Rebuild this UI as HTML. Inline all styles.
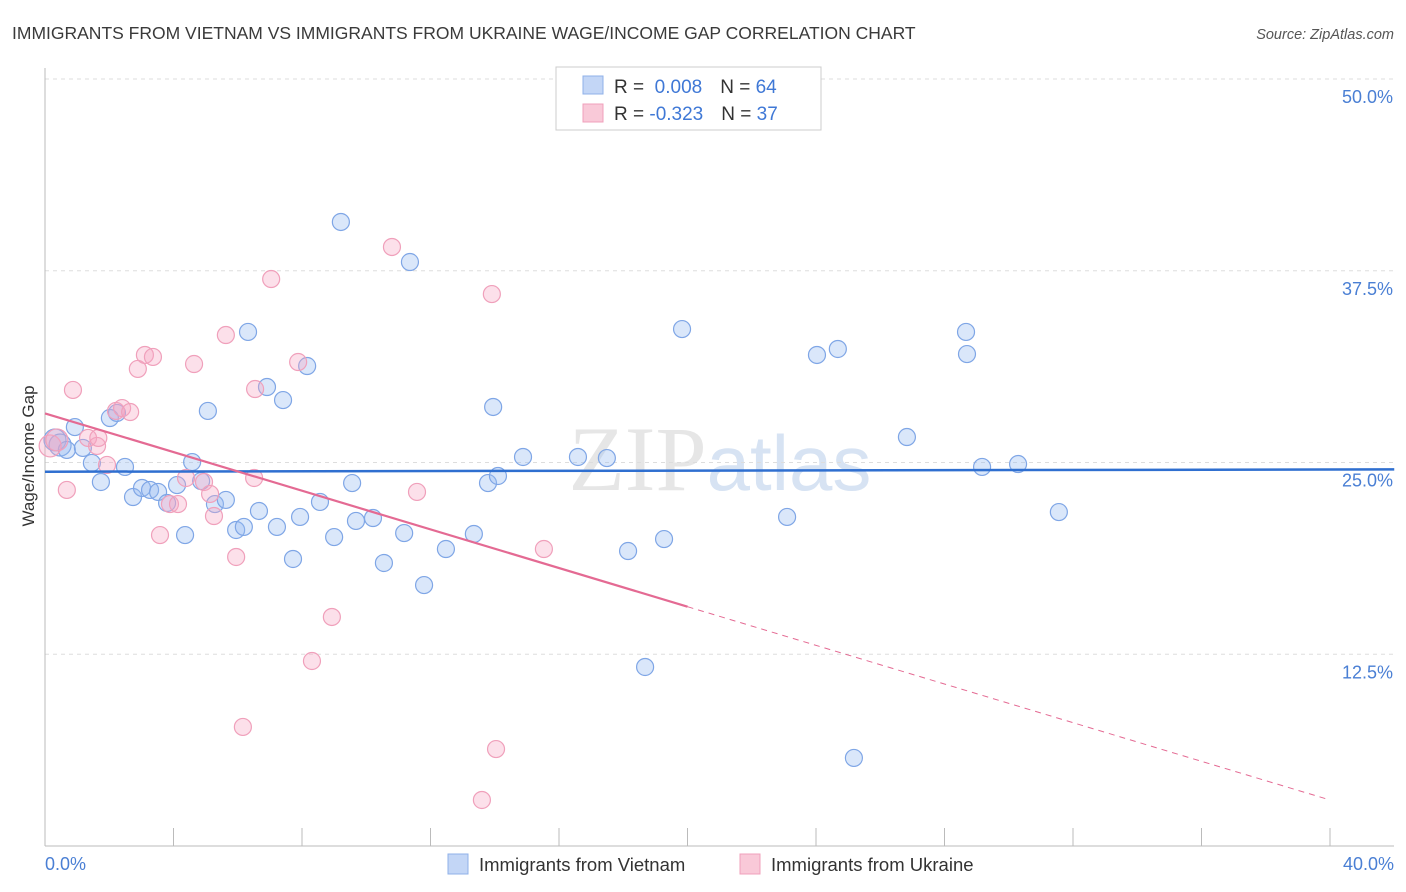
<!DOCTYPE html>
<html><head><meta charset="utf-8"><style>
body{margin:0;background:#fff;font-family:"Liberation Sans",sans-serif;}
svg{display:block}
</style></head><body>
<svg id="chart" width="1406" height="892" viewBox="0 0 1406 892">
<text x="12" y="39" font-size="17.5" fill="#3a3a3a">IMMIGRANTS FROM VIETNAM VS IMMIGRANTS FROM UKRAINE WAGE/INCOME GAP CORRELATION CHART</text>
<text x="1394" y="39" font-size="14.5" fill="#555" font-style="italic" text-anchor="end">Source: ZipAtlas.com</text>
<text x="720" y="490" font-size="92" fill="#e6e6e6" text-anchor="middle" font-family="Liberation Serif,serif">ZIP<tspan fill="#d7e3f3" font-family="Liberation Sans,sans-serif" font-size="78">atlas</tspan></text>
<g id="grid"></g>
<line x1="45" y1="68" x2="45" y2="846" stroke="#bbb"/>
<line x1="45" y1="846" x2="1394" y2="846" stroke="#bbb"/>
<text transform="translate(34,456) rotate(-90)" font-size="17" fill="#333" text-anchor="middle">Wage/Income Gap</text>
<text x="45" y="870" font-size="18" fill="#4a7fd4">0.0%</text>
<text x="1394" y="870" font-size="18" fill="#4a7fd4" text-anchor="end">40.0%</text>
<g id="pts"></g>
<g id="trends"></g>
<g>
<rect x="556" y="67" width="265" height="63" fill="#fff" stroke="#ccc"/>
<rect x="583" y="76" width="20" height="18" fill="#c3d6f6" stroke="#8fb0e8"/>
<rect x="583" y="104" width="20" height="18" fill="#f9c9d8" stroke="#f0a0bb"/>
<text x="614" y="93" font-size="19" fill="#333">R = <tspan fill="#3f78d6">&#160;0.008</tspan><tspan dx="18">N = </tspan><tspan fill="#3f78d6">64</tspan></text>
<text x="614" y="120" font-size="19" fill="#333">R = <tspan fill="#3f78d6">-0.323</tspan><tspan dx="18">N = </tspan><tspan fill="#3f78d6">37</tspan></text>
</g>
<g>
<rect x="448" y="854" width="20" height="20" fill="#c3d6f6" stroke="#8fb0e8"/>
<text x="479" y="871" font-size="18.5" fill="#333">Immigrants from Vietnam</text>
<rect x="740" y="854" width="20" height="20" fill="#f9c9d8" stroke="#f0a0bb"/>
<text x="771" y="871" font-size="18.5" fill="#333">Immigrants from Ukraine</text>
</g>
</svg>
<script>
const yTicks=[12.5,25,37.5,50];
const yTickLabels=["12.5%","25.0%","37.5%","50.0%"];
const xTicks=[4,8,12,16,20,24,28,32,36,40];
const vietX=[0.31,0.47,0.68,0.93,1.18,1.46,1.74,2.02,2.24,2.49,2.74,3.02,3.27,3.52,3.80,4.11,4.36,4.58,4.86,5.07,5.29,5.63,5.95,6.19,6.32,6.66,6.91,7.22,7.41,7.72,7.94,8.16,8.56,9.00,9.21,9.56,9.68,10.21,10.55,11.18,11.36,11.80,12.48,13.35,13.79,13.95,14.10,14.88,16.59,17.49,18.15,18.68,19.27,19.83,23.10,24.03,24.68,25.18,26.83,28.67,28.70,29.17,30.29,31.56];
const vietY=[26.47,26.14,25.82,27.31,25.95,24.97,23.73,27.90,28.23,24.71,22.75,23.34,23.21,23.08,22.36,23.53,20.27,25.03,23.79,28.36,22.29,22.56,20.60,20.80,33.51,21.84,29.92,20.80,29.07,18.71,21.45,31.29,22.43,20.14,40.68,23.66,21.19,21.38,18.45,20.40,38.07,17.01,19.36,20.34,23.66,28.62,24.12,25.36,25.36,25.29,19.23,11.67,20.01,33.70,21.45,32.01,32.40,5.74,26.66,33.51,32.07,24.71,24.90,21.77];
const ukrX=[0.16,0.37,0.68,0.87,1.34,1.62,1.93,2.21,2.40,2.65,2.89,3.11,3.36,3.58,3.89,4.14,4.39,4.64,4.95,5.14,5.26,5.63,5.95,6.16,6.54,6.51,7.04,7.88,8.31,8.93,10.80,11.58,13.60,13.91,14.04,15.53,1.66];
const ukrY=[26.08,26.47,23.21,29.73,26.60,26.08,24.84,28.36,28.55,28.29,31.10,32.01,31.88,20.27,22.29,22.29,23.99,31.42,23.73,22.95,21.51,33.31,18.84,7.76,29.79,23.99,36.96,31.55,12.06,14.93,39.05,23.08,3.00,35.98,6.32,19.36,26.6];
const vietTrend=[24.4,24.55];
const ukrTrend=[28.2,3.0];
const xs=v=>45+v*32.125, ys=v=>846-v*15.34;
const NS="http://www.w3.org/2000/svg";
const mk=(t,a,p)=>{const e=document.createElementNS(NS,t);for(const k in a)e.setAttribute(k,a[k]);p.appendChild(e);return e;};
const grid=document.getElementById('grid');
yTicks.forEach((t,i)=>{
 const l=mk('line',{x1:45,x2:1394,y1:ys(t),y2:ys(t),stroke:'#ddd','stroke-dasharray':'4,4'},grid);
 
 
 const tx=mk('text',{x:1393,y:ys(t)+24,'font-size':18,fill:'#4a7fd4','text-anchor':'end'},grid);
 tx.textContent=yTickLabels[i];
 
 
});
xTicks.forEach(t=>{
 const l=mk('line',{x1:xs(t),x2:xs(t),y1:828,y2:846,stroke:'#bbb'},grid);
 
 
});
const pts=document.getElementById('pts');
vietX.forEach((x,i)=>{
 const c=mk('circle',{cx:xs(x),cy:ys(vietY[i]),r:i<2?11:8.5,fill:'rgba(150,185,240,0.35)',stroke:'#7fa6e6','stroke-width':1.2},pts);
 
 
});
ukrX.forEach((x,i)=>{
 const c=mk('circle',{cx:xs(x),cy:ys(ukrY[i]),r:i<2?11:8.5,fill:'rgba(245,165,195,0.35)',stroke:'#f0a0bb','stroke-width':1.2},pts);
 
 
});
const tr=document.getElementById('trends');
const bl=mk('line',{x1:xs(0),x2:xs(42),y1:ys(vietTrend[0]),y2:ys(vietTrend[1]),stroke:'#2f6fd0','stroke-width':2.5},tr);


const uy=x=>ukrTrend[0]+(ukrTrend[1]-ukrTrend[0])*x/40;
const pl=mk('line',{x1:xs(0),x2:xs(20),y1:ys(uy(0)),y2:ys(uy(20)),stroke:'#e46a93','stroke-width':2.2},tr);


const pd=mk('line',{x1:xs(20),x2:xs(40),y1:ys(uy(20)),y2:ys(uy(40)),stroke:'#e46a93','stroke-width':1,'stroke-dasharray':'6,5'},tr);


</script>
</body></html>
